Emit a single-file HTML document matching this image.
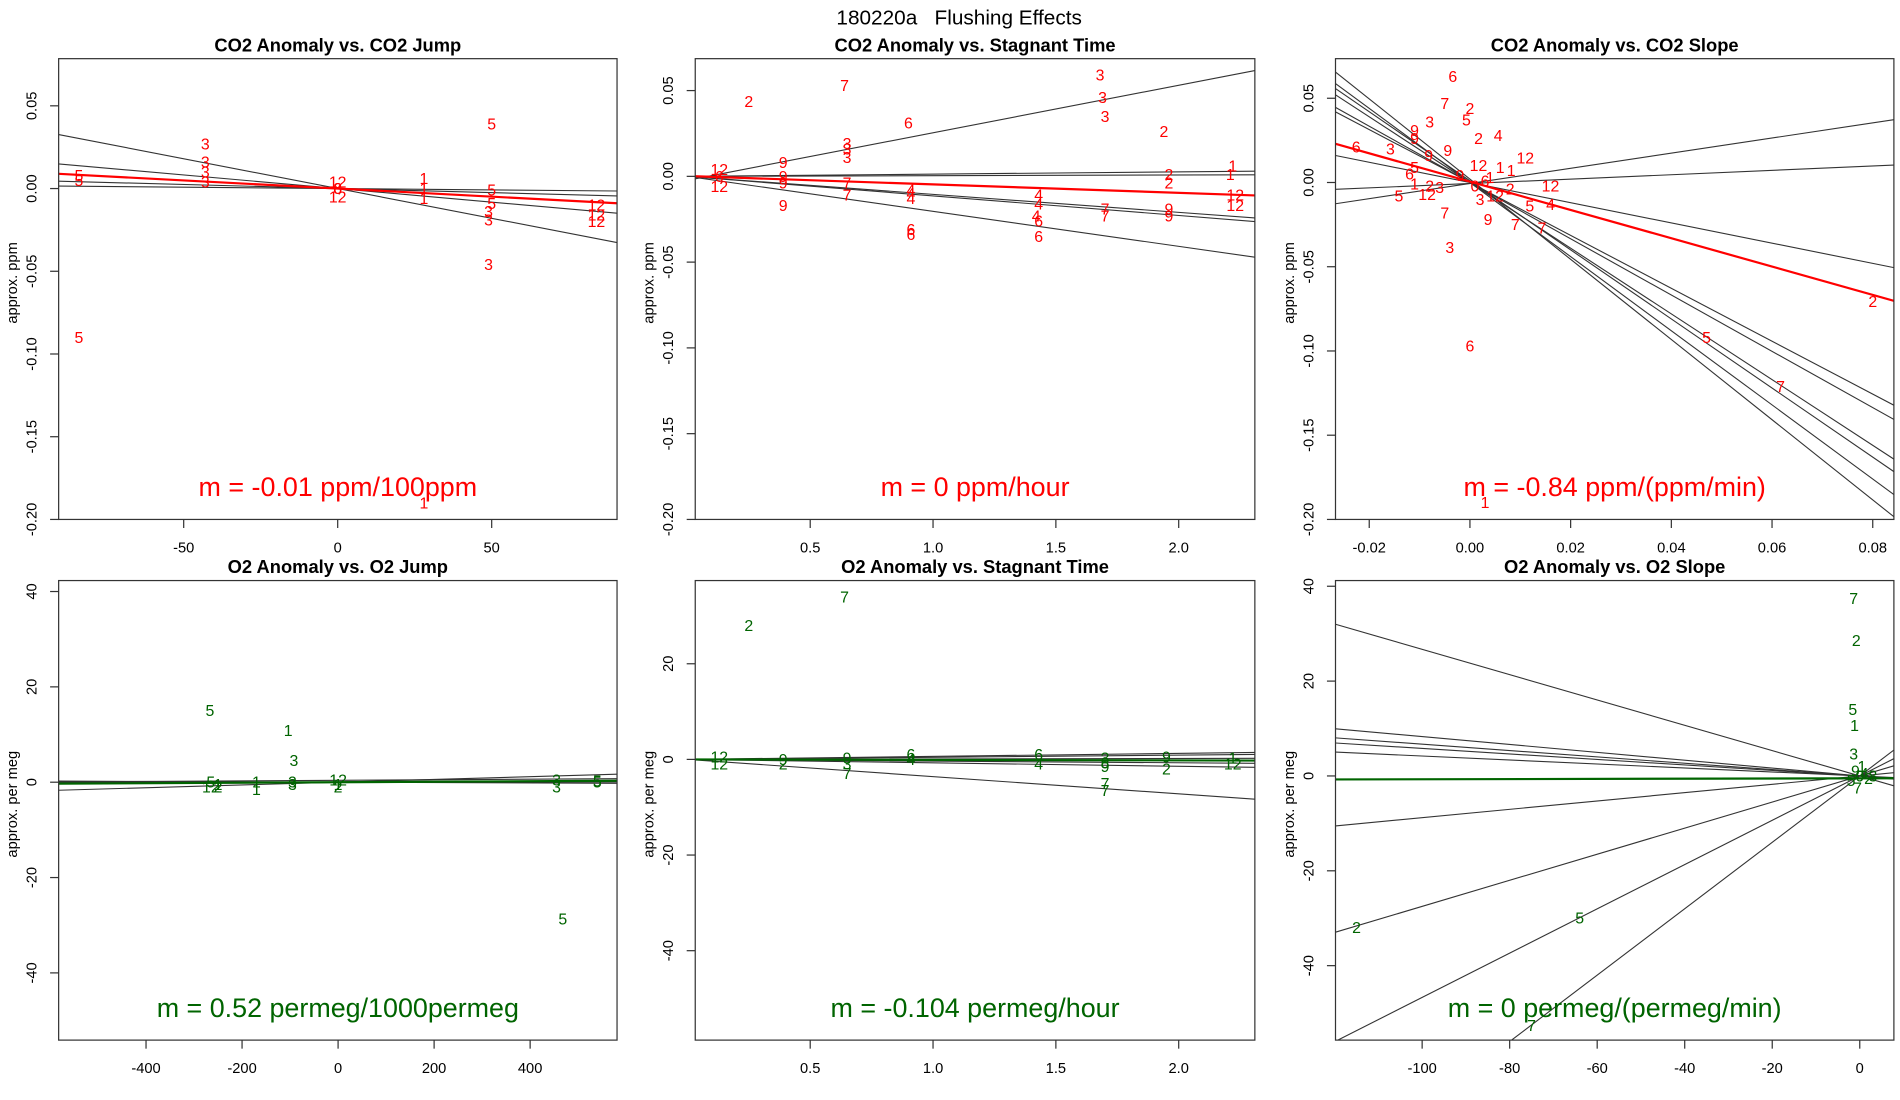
<!DOCTYPE html>
<html><head><meta charset="utf-8"><title>180220a Flushing Effects</title>
<style>
html,body{margin:0;padding:0;background:#fff;width:1900px;height:1100px;overflow:hidden}
svg{display:block;overflow:hidden;font-family:"Liberation Sans",sans-serif}
</style></head>
<body>
<svg id="fig" width="1900" height="1100" viewBox="0 0 1555 900" preserveAspectRatio="none" xmlns="http://www.w3.org/2000/svg">
<text x="785" y="20" font-size="17" text-anchor="middle" style="white-space:pre" xml:space="preserve">180220a   Flushing Effects</text>
</svg>
<script>
// ---- Panel 1: CO2 Anomaly vs CO2 Jump ----
const p1X = [-84,-84,-84,-43,-43,-43,-43,0,0,0,0,28,28,28,28,50,50,50,49,49,49,84,84,84];
const p1Y = [-0.09,0.008,0.005,0.027,0.016,0.01,0.004,0.004,-0.005,0,0,0.006,0,-0.006,-0.19,0.039,-0.001,-0.009,-0.014,-0.019,-0.046,-0.01,-0.016,-0.02];
const p1L = ["5","5","5","3","3","3","3","12","12","6","8","1","1","1","1","5","5","5","3","3","3","12","12","12"];
const p1Slopes = [-0.00036,-0.000164,-0.0000984,-0.0000491,-0.0000164];
const p1Ints = [0,0,0,0,0];
const p1FitSlope = -0.0000982, p1FitInt = 0;
const p1XTicks = [-50,0,50], p1YTicks = [0.05,0,-0.05,-0.1,-0.15,-0.2];
const p1YTickLabels = ["0.05","0.00","-0.05","-0.10","-0.15","-0.20"];

// ---- Panel 2: CO2 Anomaly vs Stagnant Time ----
const p2X = [0.25,0.64,0.9,0.65,0.65,0.65,0.39,0.39,0.39,0.39,0.13,0.13,0.13,0.65,0.65,0.91,0.91,0.91,0.91,0.91,1.68,1.69,1.7,1.43,1.43,1.42,1.43,1.43,1.7,1.7,1.94,1.96,1.96,1.96,1.96,2.22,2.21,2.23,2.23];
const p2Y = [0.0436,0.053,0.031,0.019,0.016,0.011,0.008,0,-0.004,-0.017,0.004,-0.006,0,-0.004,-0.011,-0.008,-0.01,-0.013,-0.031,-0.034,0.059,0.046,0.035,-0.011,-0.016,-0.023,-0.026,-0.035,-0.019,-0.023,0.026,0.001,-0.004,-0.019,-0.023,0.006,0.001,-0.011,-0.017];
const p2L = ["2","7","6","3","3","3","9","9","9","9","12","12","6","7","7","4","4","4","6","6","3","3","3","4","4","4","6","6","7","7","2","2","2","9","9","1","1","12","12"];
const p2Slopes = [0.0277,0.0013,0.0004,-0.0105,-0.0114,-0.0204];
const p2Ints = [-0.0023,0,0,0,0,0];
const p2FitSlope = -0.0049, p2FitInt = 0.0002;
const p2XTicks = [0.5,1.0,1.5,2.0], p2XTickLabels = ["0.5","1.0","1.5","2.0"];

// ---- Panel 3: CO2 Anomaly vs CO2 Slope ----
const p3X = [-0.0034,-0.005,0,-0.0007,-0.008,-0.011,-0.011,0.0056,0.0017,-0.0226,-0.0158,-0.0044,-0.0082,0.0017,0.011,0.006,0.0082,-0.011,-0.012,-0.011,-0.008,-0.0085,-0.0141,-0.005,-0.004,0.0036,0.009,0.0143,0.0119,0.016,0.016,0,0.003,0.047,0.0617,0.08,-0.002,0.001,0.003,0.005,-0.006,0.008,0.002,0.004];
const p3Y = [0.063,0.047,0.044,0.037,0.036,0.031,0.026,0.028,0.026,0.021,0.02,0.019,0.016,0.01,0.0145,0.009,0.007,0.009,0.005,-0.001,-0.002,-0.007,-0.008,-0.018,-0.0385,-0.022,-0.025,-0.027,-0.014,-0.013,-0.002,-0.097,-0.19,-0.092,-0.121,-0.0705,0.004,-0.002,0.001,-0.008,-0.003,-0.004,-0.01,0.003];
const p3L = ["6","7","2","5","3","9","9","4","2","6","3","9","9","12","12","1","1","5","6","1","2","12","5","7","3","9","7","7","5","4","12","6","1","5","7","2","9","0","6","12","3","2","3","1"];
const p3Slopes = [0.45,0.13,-0.6,-1.57,-1.67,-1.95,-2.2,-2.38,-2.05];
const p3Ints = [-0.0006,-0.0006,0,0,0,0,0,0.002,0.001];
const p3FitSlope = -0.84, p3FitInt = 0.0005;
const p3XTicks = [-0.02,0,0.02,0.04,0.06,0.08], p3XTickLabels = ["-0.02","0.00","0.02","0.04","0.06","0.08"];

// ---- Panel 4: O2 Anomaly vs O2 Jump ----
const p4X = [-267,-104,-92,468,-265,-265,-250,-250,-170,-170,-95,-95,0,0,0,455,455,540,540];
const p4Y = [15,10.8,4.6,-28.7,0,-1,-0.5,-1,0,-1.5,0,-0.5,0.5,-0.5,-1,0.5,-1,0.3,0];
const p4L = ["5","1","3","5","5","12","1","2","1","1","3","3","12","1","2","3","3","5","5"];
const p4Slopes = [0.0029,0.0006,0.0001,-0.0004];
const p4Ints = [0,0.4,0,0];
const p4FitSlope = 0.00052, p4FitInt = 0;
const p4XTicks = [-400,-200,0,200,400], p4YTicks = [40,20,0,-20,-40];

// ---- Panel 5: O2 Anomaly vs Stagnant Time ----
const p5X = [0.25,0.64,0.13,0.13,0.39,0.39,0.65,0.65,0.65,0.91,0.91,1.43,1.43,1.70,1.70,1.70,1.95,1.95,2.22,2.22,1.70,1.70];
const p5Y = [28,34,0.5,-1,0,-1,0.3,-1,-3,1,0,1,-1,0.3,-0.8,-1.5,0.5,-2,0.3,-1,-5,-6.5];
const p5L = ["2","7","12","12","9","2","9","3","7","6","4","6","4","3","8","9","9","2","1","12","7","7"];
const p5Slopes = [0.63,0.45,0.1,-0.35,-0.72,-3.6];
const p5Ints = [0,0,0,0,0,0];
const p5FitSlope = -0.104, p5FitInt = 0;
const p5YTicks = [20,0,-20,-40];

// ---- Panel 6: O2 Anomaly vs O2 Slope ----
const p6X = [-1.4,-0.8,-1.6,-1.2,-1.4,-115,-64,-75,0,-1,1,-2,0.5,2,3,-0.5];
const p6Y = [37.4,28.6,14,10.6,4.6,-32,-30,-52.6,0,1,0.5,-1,2,-0.5,0,-2.5];
const p6L = ["7","2","5","1","3","2","5","7","0","9","4","5","1","2","3","7"];
const p6Slopes = [-0.267,-0.083,-0.067,-0.058,-0.042,0.088,0.275,0.467,0.7];
const p6Ints = [0,0,0,0,0,0,0,0,0];
const p6FitSlope = 0.002, p6FitInt = -0.5;
const p6XTicks = [-100,-80,-60,-40,-20,0];

const NS = "http://www.w3.org/2000/svg";
const svg = document.getElementById('fig');
function mk(tag, attrs, parent){
  const e = document.createElementNS(NS, tag);
  for (const k in attrs) e.setAttribute(k, attrs[k]);
  (parent||svg).appendChild(e);
  return e;
}

function panel(cfg){
  const g = mk('g', {});
  
  
  const [L,T,R,B] = cfg.box;
  const sx = v => L + (v - cfg.xd[0]) / (cfg.xd[1] - cfg.xd[0]) * (R - L);
  const sy = v => B - (v - cfg.yd[0]) / (cfg.yd[1] - cfg.yd[0]) * (B - T);
  const t = mk('text', {x:(L+R)/2, y:T-6, 'font-size':15, 'font-weight':'bold', 'text-anchor':'middle'}, g);
  t.textContent = cfg.title;
  
  
  const cid = 'clip' + cfg.name;
  const cp = mk('clipPath', {id:cid}, g);
  mk('rect', {x:L, y:T, width:R-L, height:B-T}, cp);
  const inner = mk('g', {'clip-path':'url(#'+cid+')'}, g);
  for (let i = 0; i < cfg.slopes.length; i++){
    const ln = mk('line', {x1:sx(cfg.xd[0]), y1:sy(cfg.ints[i] + cfg.slopes[i]*cfg.xd[0]), x2:sx(cfg.xd[1]), y2:sy(cfg.ints[i] + cfg.slopes[i]*cfg.xd[1]), stroke:'#333', 'stroke-width':0.9}, inner);
    
    
  }
  const fl = mk('line', {x1:sx(cfg.xd[0]), y1:sy(cfg.fitInt + cfg.fitSlope*cfg.xd[0]), x2:sx(cfg.xd[1]), y2:sy(cfg.fitInt + cfg.fitSlope*cfg.xd[1]), stroke:cfg.color, 'stroke-width':1.8}, inner);
  
  
  for (let i = 0; i < cfg.px.length; i++){
    const p = mk('text', {x:sx(cfg.px[i]), y:sy(cfg.py[i]) + 4.5, 'font-size':13, fill:cfg.color, 'text-anchor':'middle'}, inner);
    p.textContent = cfg.pl[i];
    
    
  }
  const bx = mk('rect', {x:L, y:T, width:R-L, height:B-T, fill:'none', stroke:'#333', 'stroke-width':1}, g);
  
  
  cfg.xt.forEach((v, i) => {
    mk('line', {x1:sx(v), y1:B, x2:sx(v), y2:B+7, stroke:'#333'}, g);
    const tl = mk('text', {x:sx(v), y:B+27, 'font-size':12, 'text-anchor':'middle'}, g);
    tl.textContent = cfg.xtl ? cfg.xtl[i] : String(v);
    
    
  });
  cfg.yt.forEach((v, i) => {
    mk('line', {x1:L-7, y1:sy(v), x2:L, y2:sy(v), stroke:'#333'}, g);
    const yx = L-18;
    const tl = mk('text', {x:yx, y:sy(v), 'font-size':12, 'text-anchor':'middle', transform:'rotate(-90 '+yx+' '+sy(v)+')'}, g);
    tl.textContent = cfg.ytl ? cfg.ytl[i] : String(v);
    
    
  });
  const yl = L-34, ym = (T+B)/2 - 5;
  const yt = mk('text', {x:yl, y:ym, 'font-size':12, 'text-anchor':'middle', transform:'rotate(-90 '+yl+' '+ym+')'}, g);
  yt.textContent = cfg.ylab;
  
  
  const m = mk('text', {x:(L+R)/2, y:B-19, 'font-size':22, fill:cfg.color, 'text-anchor':'middle'}, g);
  m.textContent = cfg.mtext;
  
  
}

const RED = '#ff0000', GRN = '#006400';
panel({name:'co2-vs-jump', title:'CO2 Anomaly vs. CO2 Jump', box:[48,48,505,425], xd:[-90.6,90.7], yd:[-0.2, 0.0785],
  px:p1X, py:p1Y, pl:p1L, slopes:p1Slopes, ints:p1Ints, fitSlope:p1FitSlope, fitInt:p1FitInt,
  xt:p1XTicks, yt:p1YTicks, ytl:p1YTickLabels, ylab:'approx. ppm', mtext:'m = -0.01 ppm/100ppm', color:RED});
panel({name:'co2-vs-stagnant', title:'CO2 Anomaly vs. Stagnant Time', box:[569,48,1027,425], xd:[0.032,2.31], yd:[-0.2,0.0686],
  px:p2X, py:p2Y, pl:p2L, slopes:p2Slopes, ints:p2Ints, fitSlope:p2FitSlope, fitInt:p2FitInt,
  xt:p2XTicks, xtl:p2XTickLabels, yt:p1YTicks, ytl:p1YTickLabels, ylab:'approx. ppm', mtext:'m = 0 ppm/hour', color:RED});
panel({name:'co2-vs-slope', title:'CO2 Anomaly vs. CO2 Slope', box:[1093,48,1550,425], xd:[-0.0267,0.0842], yd:[-0.2,0.0735],
  px:p3X, py:p3Y, pl:p3L, slopes:p3Slopes, ints:p3Ints, fitSlope:p3FitSlope, fitInt:p3FitInt,
  xt:p3XTicks, xtl:p3XTickLabels, yt:p1YTicks, ytl:p1YTickLabels, ylab:'approx. ppm', mtext:'m = -0.84 ppm/(ppm/min)', color:RED});
panel({name:'o2-vs-jump', title:'O2 Anomaly vs. O2 Jump', box:[48,475,505,851], xd:[-582,581], yd:[-54.1,42.3],
  px:p4X, py:p4Y, pl:p4L, slopes:p4Slopes, ints:p4Ints, fitSlope:p4FitSlope, fitInt:p4FitInt,
  xt:p4XTicks, yt:p4YTicks, ylab:'approx. per meg', mtext:'m = 0.52 permeg/1000permeg', color:GRN});
panel({name:'o2-vs-stagnant', title:'O2 Anomaly vs. Stagnant Time', box:[569,475,1027,851], xd:[0.032,2.31], yd:[-58.7,37.4],
  px:p5X, py:p5Y, pl:p5L, slopes:p5Slopes, ints:p5Ints, fitSlope:p5FitSlope, fitInt:p5FitInt,
  xt:p2XTicks, xtl:p2XTickLabels, yt:p5YTicks, ylab:'approx. per meg', mtext:'m = -0.104 permeg/hour', color:GRN});
panel({name:'o2-vs-slope', title:'O2 Anomaly vs. O2 Slope', box:[1093,475,1550,851], xd:[-119.8,7.8], yd:[-55.7,41.2],
  px:p6X, py:p6Y, pl:p6L, slopes:p6Slopes, ints:p6Ints, fitSlope:p6FitSlope, fitInt:p6FitInt,
  xt:p6XTicks, yt:p4YTicks, ylab:'approx. per meg', mtext:'m = 0 permeg/(permeg/min)', color:GRN});
</script>
</body></html>
